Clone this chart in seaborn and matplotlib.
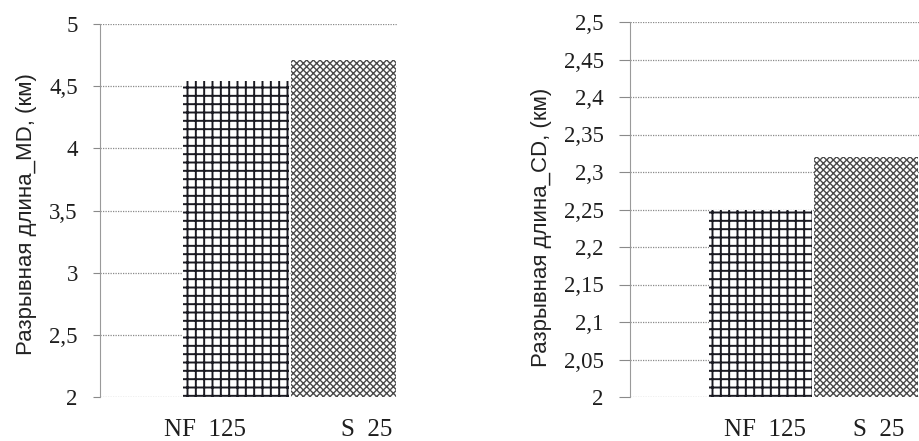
import matplotlib
matplotlib.use("Agg")
import matplotlib.pyplot as plt
import seaborn as sns

categories = ["NF  125", "S  25"]
md_values = [4.54, 4.71]   # breaking length, machine direction, km
cd_values = [2.25, 2.32]   # breaking length, cross direction, km

md_ticks = [2, 2.5, 3, 3.5, 4, 4.5, 5]
md_tick_labels = ["2", "2,5", "3", "3,5", "4", "4,5", "5"]
cd_ticks = [2, 2.05, 2.1, 2.15, 2.2, 2.25, 2.3, 2.35, 2.4, 2.45, 2.5]
cd_tick_labels = ["2", "2,05", "2,1", "2,15", "2,2", "2,25", "2,3", "2,35", "2,4", "2,45", "2,5"]

sns.set_theme(style="white")
plt.rcParams["font.family"] = ["Liberation Serif", "DejaVu Serif"]

W, H = 919, 441
fig = plt.figure(figsize=(W / 100, H / 100), dpi=100)
fig.patch.set_facecolor("white")


def px_axes(left, top, right, bottom):
    return fig.add_axes([left / W, 1 - bottom / H, (right - left) / W, (bottom - top) / H])


ax1 = px_axes(100, 24, 397, 397)
ax2 = px_axes(630, 22, 927, 397)

hatches = ["++", "xxxxx"]
hatch_colors = ["#1a1a22", "#4a4a4a"]
hatch_widths = [1.4, 1.0]


def draw_panel(ax, values, ticks, tick_labels, ylim, xlim, label_pos, ylabel,
               ylabel_x, ylabel_y, tick_len):
    sns.barplot(x=categories, y=values, ax=ax, width=0.98, color="white",
                saturation=1, zorder=3)
    for patch, h, c, lw in zip(ax.patches, hatches, hatch_colors, hatch_widths):
        patch.set_facecolor("white")
        patch.set_edgecolor(c)
        patch.set_linewidth(0)
        patch.set_hatch(h)
        if hasattr(patch, "set_hatch_linewidth"):
            patch.set_hatch_linewidth(lw)
    ax.set_ylim(*ylim)
    ax.set_xlim(*xlim)
    ax.set_yticks(ticks, tick_labels)
    ax.set_xticks(label_pos, categories)
    ax.tick_params(axis="y", length=tick_len, width=0.8, color="#8a8a8a",
                   direction="out", pad=11, labelsize=16.5, left=True)
    ax.tick_params(axis="x", length=0, pad=16, labelsize=18)
    ax.yaxis.grid(True, color="#8a8a8a", linestyle=(0, (1, 1)), linewidth=0.9)
    ax.set_axisbelow(True)
    for side in ("top", "right", "bottom"):
        ax.spines[side].set_visible(False)
    ax.spines["left"].set_color("#9a9a9a")
    ax.spines["left"].set_linewidth(0.8)
    ax.set_xlabel("")
    ax.set_ylabel(ylabel, family=["Liberation Sans", "DejaVu Sans"], fontsize=16,
                  color="#222222")
    ax.yaxis.set_label_coords(ylabel_x, ylabel_y)
    for t in ax.get_yticklabels() + ax.get_xticklabels():
        t.set_color("#1e1e1e")


draw_panel(ax1, md_values, md_ticks, md_tick_labels, (2, 5), (-1.265, 1.498),
           [-0.29, 1.22], "Разрывная длина_MD, (км)", -0.212, 0.49, 5)
draw_panel(ax2, cd_values, cd_ticks, cd_tick_labels, (2, 2.5), (-1.237, 1.578),
           [0.04, 1.12], "Разрывная длина_CD, (км)", -0.263, 0.453, 8)

fig.savefig("out.png", dpi=100, facecolor="white")
